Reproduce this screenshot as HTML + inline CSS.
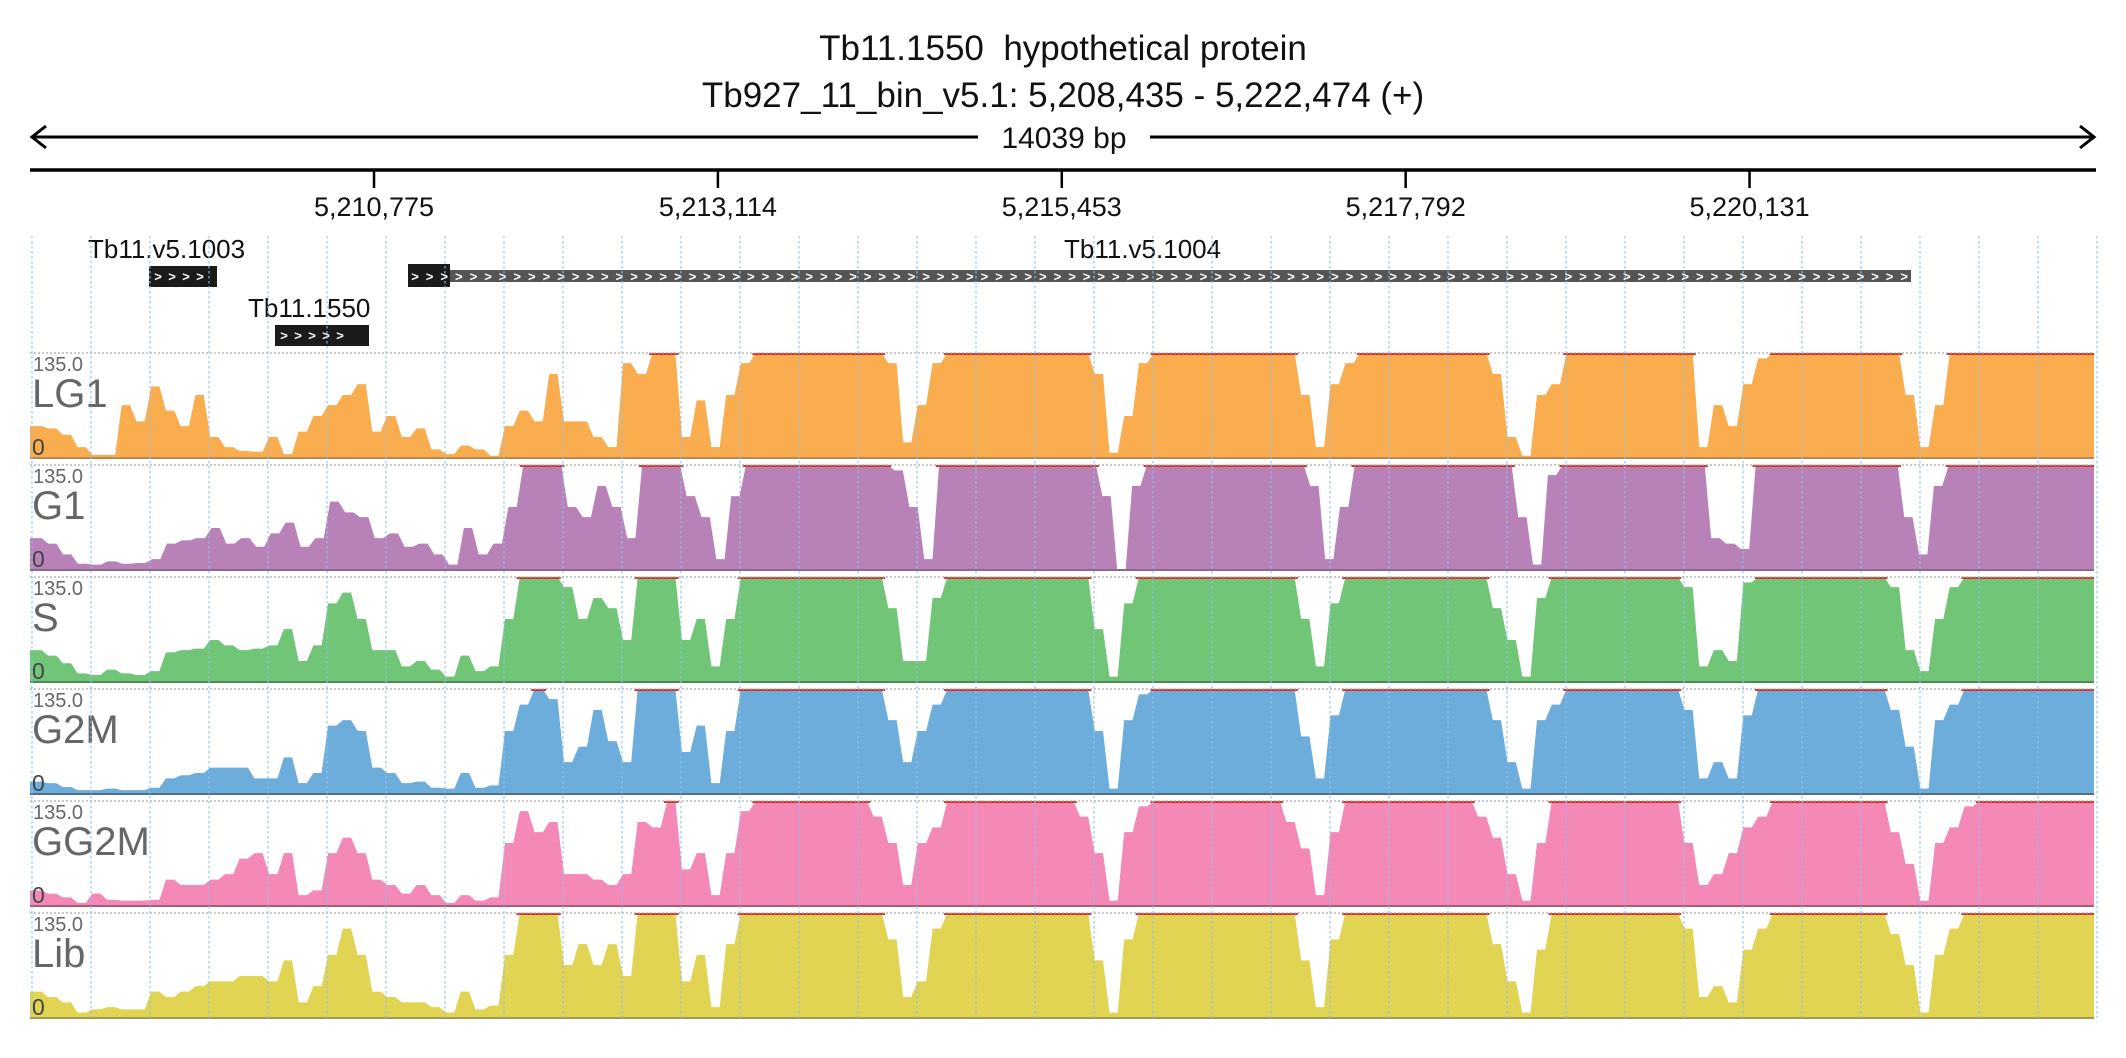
<!DOCTYPE html>
<html><head><meta charset="utf-8">
<style>
html,body{margin:0;padding:0;background:#fff;}
svg{display:block;font-family:"Liberation Sans",sans-serif;}
</style></head>
<body>
<svg id="chart" width="2126" height="1058" viewBox="0 0 2126 1058" xmlns="http://www.w3.org/2000/svg">
  <text x="1063" y="60" text-anchor="middle" font-size="35" fill="#111">Tb11.1550&#160; hypothetical protein</text>
  <text x="1063" y="107" text-anchor="middle" font-size="35" fill="#111">Tb927_11_bin_v5.1: 5,208,435 - 5,222,474 (+)</text>
  <g stroke="#000" stroke-width="3" fill="none">
    <line x1="32" y1="137" x2="978" y2="137"/>
    <line x1="1150" y1="137" x2="2094" y2="137"/>
    <polyline points="46,126 32,137 46,148"/>
    <polyline points="2080,126 2094,137 2080,148"/>
  </g>
  <text x="1064" y="148" text-anchor="middle" font-size="30" fill="#111">14039 bp</text>
  <line x1="30" y1="170" x2="2096" y2="170" stroke="#000" stroke-width="3.5"/>
  <g id="axis"></g>
  <g id="genes"></g>
  <g id="tracks"></g>
  <g id="gridTop"></g>
</svg>
<script>
const NS='http://www.w3.org/2000/svg';
const startBp=5208435, endBp=5222474;
const tickLabels=['5,210,775','5,213,114','5,215,453','5,217,792','5,220,131'];
const tickPositions=[5210775,5213114,5215453,5217792,5220131];
const trackNames=['LG1','G1','S','G2M','GG2M','Lib'];
const yMax=135;
const lg1=[41,38,30,14,4,4,68,47,92,61,41,81,27,14,9,8,27,5,34,54,68,81,95,34,54,27,38,11,5,16,11,3,41,61,47,108,47,47,27,14,122,108,160,160,27,74,14,81,122,160,160,160,160,160,160,160,160,160,122,20,68,122,160,160,160,160,160,160,160,160,160,160,108,7,54,122,160,160,160,160,160,160,160,160,160,160,81,14,95,122,160,160,160,160,160,160,160,160,160,108,27,3,81,95,160,160,160,160,160,160,160,160,160,14,68,41,95,128,160,160,160,160,160,160,160,160,160,81,14,68,160,160,160,160,160,160,160,160,160,160];
const g1=[41,34,20,8,7,11,8,9,14,34,38,41,54,34,41,30,47,61,30,41,88,74,68,41,47,30,34,20,7,54,20,34,81,160,160,160,81,68,108,81,41,160,160,160,95,68,14,95,160,160,160,160,160,160,160,160,160,160,128,81,14,160,160,160,160,160,160,160,160,160,160,160,95,0,108,160,160,160,160,160,160,160,160,160,160,160,108,14,81,160,160,160,160,160,160,160,160,160,160,160,68,7,122,160,160,160,160,160,160,160,160,160,160,41,34,27,160,160,160,160,160,160,160,160,160,160,68,20,108,160,160,160,160,160,160,160,160,160,160];
const s=[41,34,24,11,9,16,11,9,14,38,41,43,54,47,41,43,47,68,27,47,101,115,81,41,41,20,27,16,7,34,14,20,81,160,160,160,122,81,108,95,54,160,160,160,54,81,20,81,160,160,160,160,160,160,160,160,160,160,95,27,27,108,160,160,160,160,160,160,160,160,160,160,68,7,101,160,160,160,160,160,160,160,160,160,160,160,81,20,101,160,160,160,160,160,160,160,160,160,160,95,54,7,108,160,160,160,160,160,160,160,160,160,122,20,41,27,128,160,160,160,160,160,160,160,160,160,122,41,14,81,122,160,160,160,160,160,160,160,160,160];
const g2m=[16,14,9,5,5,7,5,5,8,20,24,27,34,34,34,20,20,47,14,27,88,95,81,34,27,14,16,8,7,27,8,11,81,115,160,122,41,61,108,68,41,160,160,160,54,88,14,81,160,160,160,160,160,160,160,160,160,160,95,41,81,115,160,160,160,160,160,160,160,160,160,160,81,7,95,128,160,160,160,160,160,160,160,160,160,160,74,20,101,160,160,160,160,160,160,160,160,160,160,95,41,7,95,115,160,160,160,160,160,160,160,160,108,20,41,20,101,160,160,160,160,160,160,160,160,160,108,61,7,95,115,160,160,160,160,160,160,160,160,160];
const gg2m=[20,16,11,4,16,8,7,7,8,34,27,27,34,41,61,68,41,68,14,20,68,88,68,34,27,16,27,14,4,14,7,11,81,122,95,108,41,41,34,27,41,108,101,160,47,68,14,68,122,160,160,160,160,160,160,160,160,115,81,27,81,101,160,160,160,160,160,160,160,160,160,115,68,7,95,128,160,160,160,160,160,160,160,160,160,108,74,14,95,160,160,160,160,160,160,160,160,160,115,88,41,7,81,160,160,160,160,160,160,160,160,160,81,27,41,68,101,115,160,160,160,160,160,160,160,160,95,54,7,81,101,128,160,160,160,160,160,160,160,160];
const lib=[34,27,20,7,11,14,11,11,34,27,34,41,47,47,54,54,47,74,20,41,81,115,81,34,27,20,20,14,7,34,11,16,81,160,160,160,68,95,68,95,54,160,160,160,47,81,14,95,160,160,160,160,160,160,160,160,160,160,101,27,47,115,160,160,160,160,160,160,160,160,160,160,74,7,101,160,160,160,160,160,160,160,160,160,160,160,74,14,101,160,160,160,160,160,160,160,160,160,160,95,47,7,88,160,160,160,160,160,160,160,160,160,115,27,41,20,88,115,160,160,160,160,160,160,160,160,108,68,7,81,115,160,160,160,160,160,160,160,160,160];
const seriesList=[lg1,g1,s,g2m,gg2m,lib];
const colors=['#F9AD4E','#B882B8','#70C576','#6DADDC','#F489B8','#E0D452'];
const baseColors=['#b98a50','#8a6a8a','#4f8a56','#50708a','#a0607a','#a09a50'];

const plotL=30, plotR=2094;
function xBp(bp){return plotL+(bp-startBp)/(endBp-startBp)*(plotR-plotL);}
function mk(tag,attrs,parent){const e=document.createElementNS(NS,tag);for(const k in attrs)e.setAttribute(k,attrs[k]);if(parent)parent.appendChild(e);return e;}

const axis=document.getElementById('axis');
tickPositions.forEach((p,i)=>{
  const x=xBp(p);
  const t=mk('line',{x1:x,y1:170,x2:x,y2:188,stroke:'#000','stroke-width':2.5},axis);
  
  
  const l=mk('text',{x:x,y:216,'text-anchor':'middle','font-size':27,fill:'#111'},axis);
  
  
  l.textContent=tickLabels[i];
});

const gridTop=document.getElementById('gridTop');
for(let k=0;k<=35;k++){
  const x=32+59*k;
  const g=mk('line',{x1:x,y1:236,x2:x,y2:1018,stroke:'#8fc0ec','stroke-width':1.3,'stroke-dasharray':'2.5,2.5',opacity:0.85},gridTop);
  
  
}

const genes=document.getElementById('genes');
function chevrons(x0,x1,y,step,parent){
  for(let x=x0;x<=x1;x+=step){
    const c=mk('text',{x:x,y:y,'font-size':13,'font-weight':'bold',fill:'#fff','text-anchor':'middle'},parent);
    c.textContent='>';
  }
}
let g;
g=mk('g',{},genes);


mk('rect',{x:149,y:266,width:68,height:21,fill:'#1b1b1b'},g);
chevrons(158,205,281,14,g);
mk('text',{x:88,y:258,'font-size':26,fill:'#111'},g).textContent='Tb11.v5.1003';

g=mk('g',{},genes);


mk('rect',{x:275,y:325,width:94,height:21,fill:'#1b1b1b'},g);
chevrons(284,352,340,14,g);
mk('text',{x:248,y:317,'font-size':26,fill:'#111'},g).textContent='Tb11.1550';

g=mk('g',{},genes);


mk('rect',{x:450,y:270,width:1461,height:12,fill:'#555'},g);
mk('rect',{x:408,y:264,width:42,height:23,fill:'#1b1b1b'},g);
chevrons(415,1905,281,14.6,g);
mk('text',{x:1064,y:258,'font-size':26,fill:'#111'},g).textContent='Tb11.v5.1004';

const tracks=document.getElementById('tracks');
const trackTop=353, trackH=105, pitch=112;
seriesList.forEach((vals,ti)=>{
  const top=trackTop+ti*pitch, bot=top+trackH;
  const grp=mk('g',{},tracks);
  
  
  const n=vals.length, bw=(plotR-plotL)/n, r=bw*0.22;
  const yS=v=>bot-Math.min(v,yMax)/yMax*trackH;
  let d='M'+plotL+','+bot;
  vals.forEach((v,i)=>{
    const xa=plotL+i*bw, xb=xa+bw, y=yS(v).toFixed(1);
    d+=' L'+(i===0?xa:xa+r).toFixed(1)+','+y+' L'+(i===n-1?xb:xb-r).toFixed(1)+','+y;
  });
  d+=' L'+plotR+','+bot+' Z';
  const area=mk('path',{d:d,fill:colors[ti]},grp);
  
  
  for(let i=0;i<n;i++){
    if(vals[i]>=yMax){
      const xa=plotL+i*bw, xb=xa+bw;
      const rl=mk('line',{x1:xa,y1:top+1,x2:xb,y2:top+1,stroke:'#d9342b','stroke-width':2},grp);
      
      
    }
  }
  const tl=mk('line',{x1:plotL,y1:top,x2:plotR,y2:top,stroke:'#aaa','stroke-width':1.2,'stroke-dasharray':'2,2'},grp);
  
  
  const bl=mk('line',{x1:plotL,y1:bot,x2:plotR,y2:bot,stroke:baseColors[ti],'stroke-width':2},grp);
  
  
  const mx=mk('text',{x:33,y:top+18,'font-size':20,fill:'#666'},grp);
  
  
  mx.textContent='135.0';
  const nm=mk('text',{x:32,y:top+54,'font-size':40,fill:'#666'},grp);
  
  
  nm.textContent=trackNames[ti];
  const z=mk('text',{x:32,y:bot-3,'font-size':23,fill:'#444'},grp);
  
  
  z.textContent='0';
});
</script>
</body></html>
